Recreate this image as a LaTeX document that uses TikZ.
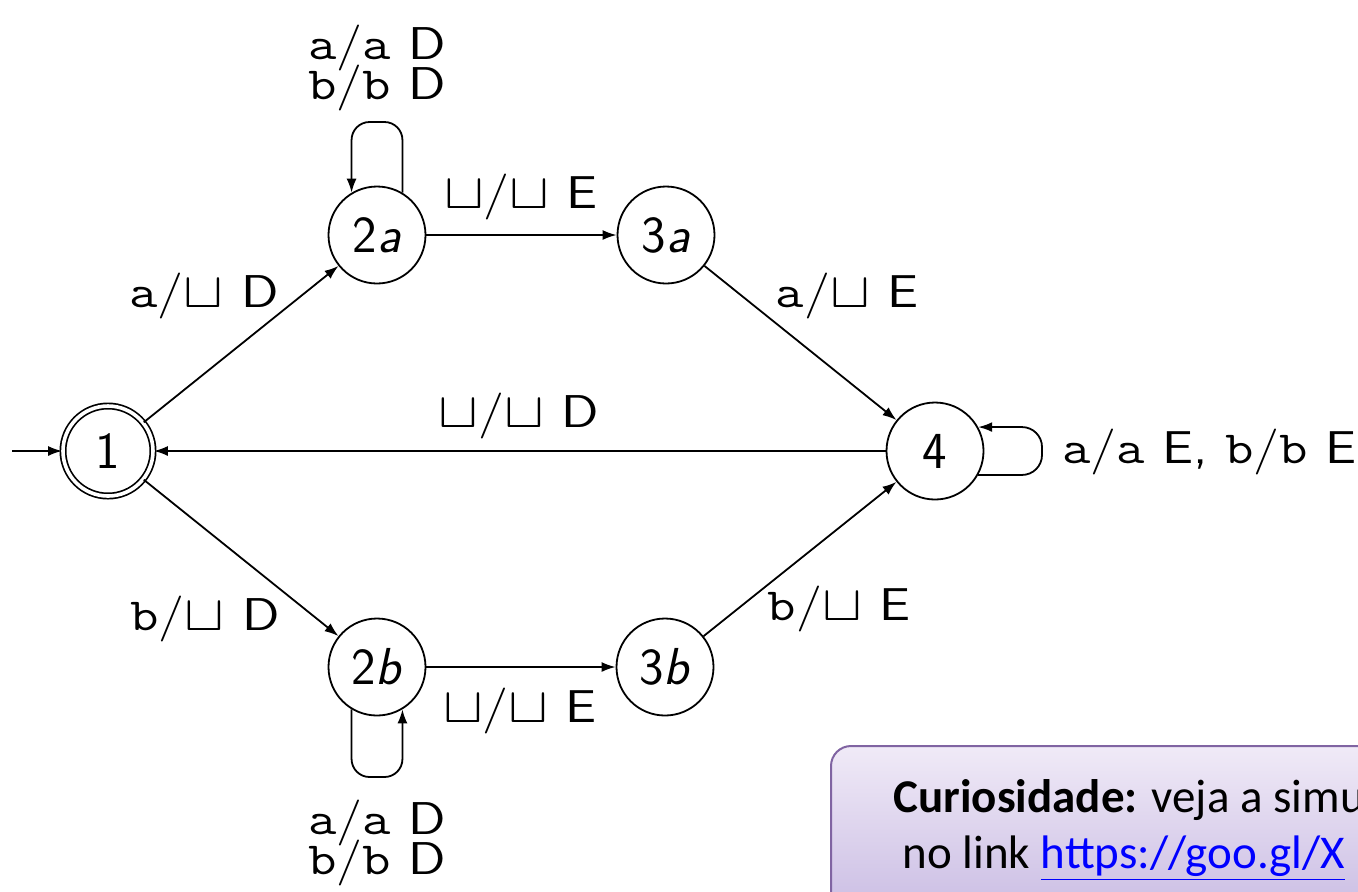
\documentclass[tikz,border=0pt]{standalone}
\usepackage{fontspec}
\usepackage{graphicx}
\newfontfamily\carlito{Carlito}
\usetikzlibrary{arrows.meta}
\definecolor{boxtop}{RGB}{240,234,247}
\definecolor{boxbot}{RGB}{203,190,228}
\definecolor{boxborder}{RGB}{128,100,162}
\definecolor{linkblue}{RGB}{0,0,255}
\newcommand\myA{\texttt{a}}
\newcommand\myB{\texttt{b}}
\newcommand\blk{$\sqcup$}
\newcommand\mywide[1]{\scalebox{1.2}[1]{#1}}
\begin{document}
\begin{tikzpicture}[x=0.5pt,y=-0.5pt,
  state/.style={circle,draw,line width=0.9pt,minimum size=48.5pt,inner sep=0pt,font=\fontsize{26}{30}\selectfont\sffamily},
  accstate/.style={state,double,double distance=1.8pt,line width=0.85pt,minimum size=45pt},
  arr/.style={-{Latex[length=7pt,width=5pt]},line width=0.9pt},
  lab/.style={font=\fontsize{23}{27}\selectfont\sffamily,inner sep=0pt,anchor=base},
  lab2/.style={font=\fontsize{23}{18}\selectfont\sffamily,inner sep=0pt,align=center,anchor=north},
  boxtext/.style={font=\fontsize{23.5}{28}\selectfont\carlito,inner sep=0pt,anchor=base west}]
\useasboundingbox (0,0) rectangle (1358,891);

% states
\node[accstate] (n1) at (108,451) {1};
\node[state] (n2a) at (377,235) {2\textit{a}};
\node[state] (n3a) at (666,235) {3\textit{a}};
\node[state] (n4) at (935,451) {4};
\node[state] (n2b) at (377,667) {2\textit{b}};
\node[state] (n3b) at (665,667) {3\textit{b}};

\coordinate (init) at (12,451);
\coordinate (l2a) at (377,122);
\coordinate (l2b) at (377,777);
\coordinate (l4) at (1042,451);

% edges
\draw[arr] (init) -- (n1);
\draw[arr] (n1) -- (n2a);
\draw[arr] (n1) -- (n2b);
\draw[arr] (n2a) -- (n3a);
\draw[arr] (n2b) -- (n3b);
\draw[arr] (n3a) -- (n4);
\draw[arr] (n3b) -- (n4);
\draw[arr] (n4) -- (n1);

% loops
\draw[arr,rounded corners=9pt] (n2a.59) -- (n2a.59 |- l2a) -- (n2a.121 |- l2a) -- (n2a.121);
\draw[arr,rounded corners=9pt] (n2b.239) -- (n2b.239 |- l2b) -- (n2b.301 |- l2b) -- (n2b.301);
\draw[arr,rounded corners=10pt] (n4.-29) -- (l4 |- n4.-29) -- (l4 |- n4.29) -- (n4.29);

% labels
\node[lab2] (t2a) at (377,25) {\mywide{\myA/\myA{} D}\\[-4pt]\mywide{\myB/\myB{} D}};
\node[lab] (t2a3a) at (521,208) {\mywide{\blk/\blk{} E}};
\node[lab] (t12a) at (204,307) {\mywide{\myA/\blk{} D}};
\node[lab] (t3a4) at (847,307) {\mywide{\myA/\blk{} E}};
\node[lab] (t41) at (519,427) {\mywide{\blk/\blk{} D}};
\node[lab] (t12b) at (205,630) {\mywide{\myB/\blk{} D}};
\node[lab] (t3b4) at (839,620) {\mywide{\myB/\blk{} E}};
\node[lab] (t2b3b) at (520,722) {\mywide{\blk/\blk{} E}};
\node[lab2] (t2b) at (377,800) {\mywide{\myA/\myA{} D}\\[-4pt]\mywide{\myB/\myB{} D}};
\node[lab,anchor=base west] (t4) at (1062,463) {\mywide{\myA/\myA{} E, \myB/\myB{} E}};

% note box
\draw[draw=boxborder,line width=1pt,rounded corners=10pt,top color=boxtop,bottom color=boxbot] (831,746) rectangle (1420,910);
\node[boxtext] (c1) at (893,812) {\textbf{Curiosidade:} veja a simu};
\node[boxtext] (c2) at (902,868) {no link \textcolor{linkblue}{\underline{https://goo.gl/X}}};
\end{tikzpicture}
\end{document}
